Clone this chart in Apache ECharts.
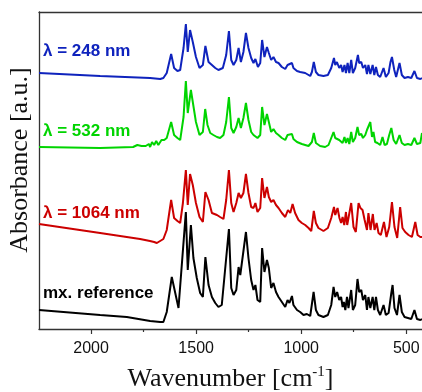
<!DOCTYPE html>
<html>
<head>
<meta charset="utf-8">
<script src="https://cdn.jsdelivr.net/npm/echarts@6/dist/echarts.min.js"></script>
<style>html,body{margin:0;padding:0;background:#fff}#c{width:422px;height:392px}</style>
</head>
<body>
<div id="c"></div>
<script>
// wavenumber (cm-1), absorbance (a.u., offset)
const majorTicks = [2000, 1500, 1000, 500];
const minorTicks = [1750, 1250, 750];
const seriesNames = ['λ = 248 nm', 'λ = 532 nm', 'λ = 1064 nm', 'mx. reference'];

const spec248 = [
[2248,2.56],[1957,2.53],[1719,2.51],[1671,2.50],[1656,2.51],[1640,2.56],[1619,2.75],[1605,2.61],[1589,2.58],[1576,2.59],
[1560,2.81],[1549,3.05],[1540,2.77],[1529,2.99],[1516,2.87],[1501,2.72],[1484,2.61],[1468,2.64],[1456,2.83],[1441,2.67],
[1425,2.64],[1409,2.61],[1394,2.59],[1373,2.61],[1357,2.74],[1344,2.98],[1333,2.69],[1322,2.64],[1309,2.69],[1298,2.81],
[1287,2.67],[1275,2.77],[1263,2.96],[1251,2.81],[1238,2.71],[1227,2.66],[1218,2.70],[1206,2.62],[1195,2.66],[1186,2.89],
[1175,2.72],[1163,2.82],[1154,2.76],[1143,2.69],[1132,2.72],[1120,2.67],[1108,2.66],[1092,2.62],[1076,2.60],[1065,2.64],
[1061,2.62],[1044,2.66],[1037,2.61],[1020,2.58],[1005,2.57],[981,2.56],[957,2.53],[949,2.57],[940,2.67],[930,2.57],
[918,2.54],[894,2.53],[873,2.54],[857,2.61],[844,2.71],[838,2.64],[830,2.67],[819,2.61],[810,2.64],[803,2.57],
[794,2.64],[787,2.56],[779,2.66],[771,2.56],[762,2.69],[754,2.56],[743,2.61],[730,2.74],[724,2.66],[714,2.67],
[706,2.61],[695,2.64],[687,2.55],[680,2.64],[671,2.55],[660,2.64],[652,2.54],[644,2.62],[635,2.54],[624,2.52],
[608,2.61],[597,2.52],[584,2.56],[575,2.67],[568,2.72],[557,2.59],[548,2.52],[532,2.66],[521,2.54],[508,2.51],
[492,2.52],[476,2.51],[461,2.58],[449,2.51],[433,2.50],[425,2.51]
];

const spec532 = [
[2248,1.82],[1957,1.81],[1800,1.82],[1780,1.84],[1760,1.83],[1751,1.85],[1740,1.83],[1725,1.85],[1719,1.82],[1710,1.87],
[1700,1.84],[1695,1.84],[1690,1.88],[1687,1.86],[1680,1.84],[1671,1.83],[1665,1.89],[1652,1.89],[1640,1.91],[1619,2.07],
[1605,1.94],[1589,1.91],[1576,1.89],[1560,2.12],[1549,2.48],[1540,2.16],[1525,2.39],[1516,2.27],[1501,2.07],[1484,1.94],
[1468,1.97],[1457,2.20],[1446,2.04],[1433,1.96],[1418,1.94],[1401,1.92],[1386,1.91],[1370,1.94],[1357,2.07],[1344,2.32],
[1333,2.01],[1322,1.96],[1309,2.02],[1298,2.11],[1287,2.01],[1275,2.11],[1263,2.26],[1251,2.09],[1238,1.97],[1227,1.94],
[1218,1.96],[1208,1.91],[1195,1.94],[1186,2.22],[1175,2.04],[1163,2.15],[1154,2.07],[1143,1.97],[1132,2.00],[1120,1.96],
[1108,1.94],[1092,1.91],[1076,1.89],[1065,1.94],[1044,1.95],[1037,1.90],[1020,1.87],[997,1.85],[965,1.83],[949,1.87],
[940,1.96],[930,1.86],[910,1.83],[886,1.82],[870,1.84],[857,1.91],[846,1.97],[838,1.91],[830,1.92],[819,1.89],
[810,1.91],[803,1.86],[794,1.92],[787,1.86],[779,1.91],[771,1.85],[762,1.97],[754,1.87],[743,1.91],[732,2.02],
[724,1.94],[714,1.95],[706,1.91],[695,1.94],[687,1.99],[671,2.07],[663,1.92],[656,1.97],[648,1.87],[637,1.86],
[624,1.84],[613,1.92],[603,1.84],[592,1.85],[581,1.94],[571,2.01],[560,1.89],[548,1.85],[532,1.94],[521,1.86],
[508,1.84],[492,1.85],[476,1.84],[461,1.91],[449,1.85],[433,1.86],[425,1.96]
];

const spec1064 = [
[2248,1.05],[1957,0.96],[1767,0.90],[1720,0.88],[1700,0.87],[1687,0.86],[1656,0.90],[1640,0.99],[1619,1.29],[1605,1.11],
[1589,1.08],[1576,1.06],[1563,1.26],[1549,1.59],[1540,1.24],[1529,1.55],[1516,1.44],[1501,1.26],[1484,1.12],[1468,1.07],
[1456,1.37],[1441,1.29],[1425,1.16],[1401,1.14],[1386,1.12],[1370,1.10],[1357,1.29],[1344,1.59],[1333,1.26],[1322,1.17],
[1309,1.26],[1298,1.36],[1287,1.31],[1275,1.36],[1263,1.55],[1251,1.36],[1238,1.22],[1227,1.21],[1218,1.26],[1208,1.17],
[1195,1.21],[1186,1.51],[1175,1.31],[1163,1.42],[1154,1.32],[1143,1.27],[1132,1.29],[1120,1.24],[1108,1.21],[1092,1.16],
[1076,1.12],[1063,1.19],[1052,1.16],[1041,1.25],[1029,1.16],[1013,1.09],[997,1.06],[981,1.04],[965,1.01],[952,0.98],
[940,1.18],[930,1.06],[918,1.01],[894,0.98],[873,1.01],[857,1.11],[844,1.22],[838,1.14],[827,1.21],[818,1.11],
[810,1.06],[803,1.12],[795,1.04],[787,1.17],[781,1.04],[762,1.26],[751,1.02],[740,0.97],[727,1.26],[718,1.21],
[708,1.19],[698,1.09],[687,0.99],[680,1.16],[670,0.99],[659,1.15],[651,0.99],[641,1.06],[632,0.96],[621,0.94],
[606,1.07],[594,0.92],[581,1.02],[568,1.27],[556,1.02],[543,0.91],[529,1.22],[518,1.01],[505,0.97],[489,0.94],
[473,0.92],[457,1.07],[446,0.94],[433,0.92],[425,0.92]
];

const specRef = [
[2248,0.19],[1957,0.14],[1830,0.12],[1719,0.08],[1671,0.07],[1656,0.07],[1640,0.17],[1616,0.52],[1584,0.21],[1549,1.17],
[1540,0.59],[1525,1.04],[1513,0.71],[1497,0.51],[1481,0.36],[1468,0.32],[1456,0.72],[1441,0.44],[1425,0.32],[1409,0.26],
[1394,0.22],[1378,0.24],[1344,1.00],[1333,0.41],[1322,0.34],[1309,0.39],[1298,0.62],[1290,0.54],[1263,0.97],[1251,0.71],
[1238,0.49],[1227,0.39],[1218,0.44],[1208,0.29],[1195,0.27],[1186,0.81],[1175,0.57],[1163,0.69],[1154,0.61],[1143,0.41],
[1132,0.46],[1120,0.37],[1108,0.32],[1092,0.27],[1076,0.22],[1065,0.29],[1056,0.26],[1044,0.33],[1037,0.24],[1020,0.19],
[1005,0.17],[989,0.14],[973,0.15],[957,0.13],[941,0.37],[930,0.19],[918,0.14],[894,0.12],[873,0.14],[857,0.24],
[846,0.42],[838,0.32],[829,0.37],[819,0.29],[810,0.32],[803,0.22],[797,0.27],[790,0.19],[782,0.32],[775,0.21],
[762,0.39],[754,0.19],[743,0.24],[732,0.50],[724,0.37],[714,0.39],[706,0.29],[695,0.34],[687,0.19],[680,0.32],
[671,0.21],[660,0.32],[652,0.19],[644,0.32],[635,0.19],[624,0.14],[608,0.24],[597,0.14],[584,0.16],[571,0.36],
[565,0.44],[556,0.21],[544,0.14],[532,0.34],[521,0.17],[508,0.12],[492,0.11],[476,0.10],[461,0.19],[449,0.10],
[433,0.09],[425,0.10]
];

const colors = ['#0f23bd', '#00d400', '#cc0000', '#000000'];
const allData = [spec248, spec532, spec1064, specRef];

const chart = echarts.init(document.getElementById('c'), null, {renderer: 'canvas'});
const X_MIN = 425, X_MAX = 2248;
const axisColor = '#333';
const serif = 'Liberation Serif, Times New Roman, serif';

const labelYs = [51, 131.5, 213, 293.5];

chart.setOption({
  animation: false,
  backgroundColor: '#fff',
  grid: {left: 39, right: 0, top: 12, bottom: 63, outerBoundsMode: 'none', containLabel: false},
  xAxis: [
    {
      type: 'value', inverse: true, min: X_MIN, max: X_MAX, position: 'bottom',
      axisLine: {show: true, onZero: false, lineStyle: {color: axisColor, width: 1.3}},
      axisTick: {show: true, customValues: majorTicks, length: 5, inside: false, lineStyle: {color: axisColor, width: 1.2}},
      axisLabel: {show: true, customValues: majorTicks, margin: 12, color: '#111', fontSize: 16,
        fontFamily: 'Liberation Sans, Arial, sans-serif', formatter: v => String(v)},
      splitLine: {show: false},
      name: '{a|Wavenumber [cm}{s|-1}{a|]}',
      nameLocation: 'middle', nameGap: 36,
      nameTextStyle: {
        rich: {
          a: {fontSize: 26, fontFamily: serif, color: '#111'},
          s: {fontSize: 15, fontFamily: serif, color: '#111', verticalAlign: 'top', padding: [0,0,13,0]}
        }
      }
    },
    {
      type: 'value', inverse: true, min: X_MIN, max: X_MAX, position: 'bottom',
      axisLine: {show: false},
      axisTick: {show: true, customValues: minorTicks, length: 3, lineStyle: {color: axisColor, width: 1.2}},
      axisLabel: {show: false}, splitLine: {show: false}
    },
    {
      type: 'value', inverse: true, min: X_MIN, max: X_MAX, position: 'top',
      axisLine: {show: true, onZero: false, lineStyle: {color: axisColor, width: 1.3}},
      axisTick: {show: false}, axisLabel: {show: false}, splitLine: {show: false}
    }
  ],
  yAxis: {
    type: 'value', min: 0, max: 3.17,
    axisLine: {show: true, onZero: false, lineStyle: {color: axisColor, width: 1.3}},
    axisTick: {show: false}, axisLabel: {show: false}, splitLine: {show: false}
  },
  series: allData.map((d, i) => ({
    name: seriesNames[i], type: 'line', data: d, xAxisIndex: 0, yAxisIndex: 0,
    showSymbol: false, symbol: 'none',
    lineStyle: {color: colors[i], width: 2}, z: 2
  })),
  graphic: [
    {
      type: 'text', x: 20, y: 160, rotation: Math.PI / 2,
      style: {text: 'Absorbance [a.u.]', fill: '#111', fontSize: 26,
        fontFamily: serif, align: 'center', verticalAlign: 'middle'}
    }
  ].concat(seriesNames.map((n, i) => ({
    type: 'text', x: 43, y: labelYs[i],
    style: {text: n, fill: colors[i], fontSize: 17, fontWeight: 'bold',
      fontFamily: 'Liberation Sans, Arial, sans-serif', align: 'left', verticalAlign: 'middle'}
  })))
});
</script>
</body>
</html>
